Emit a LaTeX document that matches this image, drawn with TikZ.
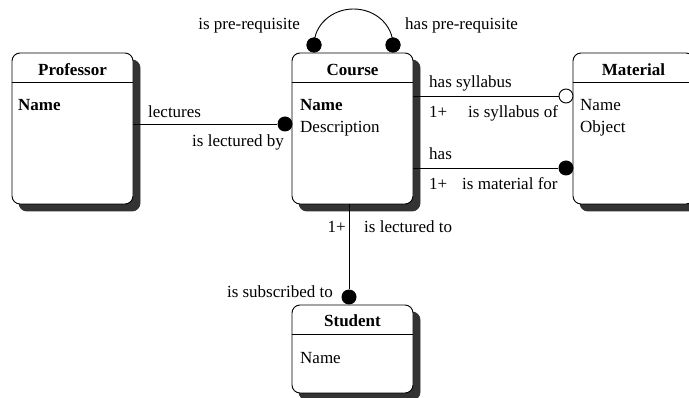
\documentclass[tikz,border=0pt]{standalone}
\usepackage{fontspec}
\setmainfont{Liberation Serif}
\usetikzlibrary{shadows}
\begin{document}
\begin{tikzpicture}[x=1pt,y=-1pt,
  font=\fontsize{17}{20}\selectfont,
  entity/.style={draw, line width=0.9pt, rounded corners=8pt, fill=white, inner sep=0pt,
    copy shadow={shadow xshift=7pt, shadow yshift=-7pt, fill=black!80, draw=black!80}},
  bigbox/.style={entity, minimum width=121pt, minimum height=151pt},
  smallbox/.style={entity, minimum width=121pt, minimum height=88pt},
  hdr/.style={line width=0.9pt},
  ttl/.style={inner sep=0pt, anchor=base, font=\fontsize{17}{20}\selectfont\bfseries},
  lbl/.style={inner sep=0pt, anchor=base west},
  lblr/.style={inner sep=0pt, anchor=base east},
  conn/.style={line width=0.9pt},
  fdot/.style={circle, fill=black, inner sep=0pt, minimum size=15pt},
  odot/.style={circle, draw, line width=0.9pt, fill=white, inner sep=0pt, minimum size=14pt}]
\useasboundingbox (0,0) rectangle (689,398);
\clip (0,0) rectangle (689,398);

% entities
\node[bigbox] (prof) at (72.5,128.5) {};
\node[bigbox] (course) at (352.5,128.5) {};
\node[bigbox] (mat) at (633.5,128.5) {};
\node[smallbox] (stu) at (352.5,349) {};

% header rules
\draw[hdr] (prof.west |- 0,82) -- (prof.east |- 0,82);
\draw[hdr] (course.west |- 0,82) -- (course.east |- 0,82);
\draw[hdr] (mat.west |- 0,82) -- (mat.east |- 0,82);
\draw[hdr] (stu.west |- 0,334) -- (stu.east |- 0,334);

% titles
\node[ttl] (tprof) at (72.5,76) {Professor};
\node[ttl] (tcourse) at (352.5,76) {Course};
\node[ttl] (tmat) at (633.5,76) {Material};
\node[ttl] (tstu) at (352.5,327) {Student};

% attributes
\node[lbl, font=\fontsize{17}{20}\selectfont\bfseries] (aprof) at (18,111) {Name};
\node[lbl, font=\fontsize{17}{20}\selectfont\bfseries] (acname) at (300,111) {Name};
\node[lbl] (acdesc) at (300,133) {Description};
\node[lbl] (amname) at (580,111) {Name};
\node[lbl] (amobj) at (580,133) {Object};
\node[lbl] (asname) at (300,363) {Name};

% relationship ends
\node[fdot] (dlect) at (285,124) {};
\node[fdot] (dpreL) at (314,45) {};
\node[fdot] (dpreR) at (393,45) {};
\node[odot] (dsyl) at (566,96) {};
\node[fdot] (dmat) at (566,168) {};
\node[fdot] (dstu) at (349,297) {};

% connectors
\draw[conn] (prof.east |- dlect) -- (dlect);
\draw[conn] (course.east |- dsyl) -- (dsyl);
\draw[conn] (course.east |- dmat) -- (dmat);
\draw[conn] (course.south -| dstu) -- (dstu);
\draw[conn] (dpreL.center) arc[start angle=180, end angle=360, x radius=39.5, y radius=36];
\node[fdot] at (dpreL) {};
\node[fdot] at (dpreR) {};

% role labels
\node[lbl] (llect) at (148,118) {lectures};
\node[lblr] (llectby) at (284,147) {is lectured by};
\node[lblr] (lprereq) at (300,30) {is pre-requisite};
\node[lbl] (lhasprereq) at (405,30) {has pre-requisite};
\node[lbl] (lhassyl) at (429,88) {has syllabus};
\node[lbl] (lsylm) at (429,118) {1+};
\node[lbl] (lsylof) at (468,118) {is syllabus of};
\node[lbl] (lhas) at (429,160) {has};
\node[lbl] (lmatm) at (429,190) {1+};
\node[lbl] (lmatfor) at (462,190) {is material for};
\node[lblr] (lstum) at (346,233) {1+};
\node[lbl] (llectto) at (364,233) {is lectured to};
\node[lblr] (lsubs) at (333,298) {is subscribed to};
\end{tikzpicture}
\end{document}
